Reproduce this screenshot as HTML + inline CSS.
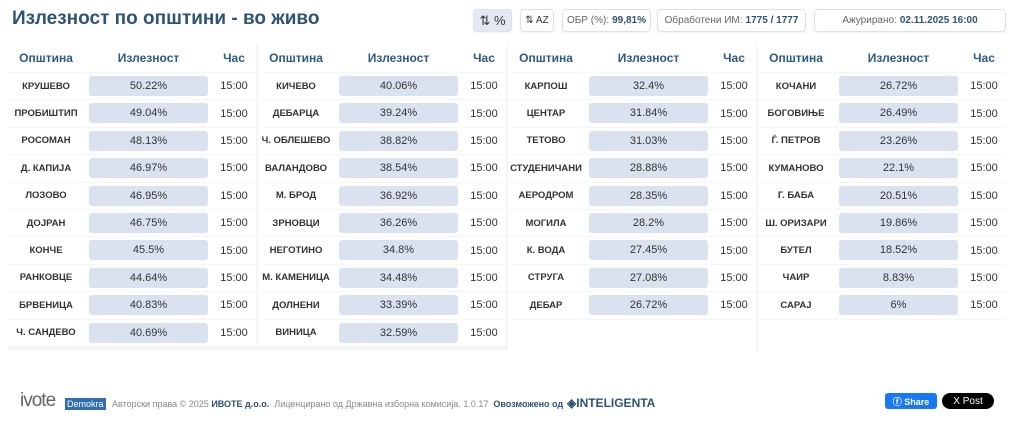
<!DOCTYPE html>
<html><head><meta charset="utf-8"><style>
*{box-sizing:border-box;margin:0;padding:0}
body{width:1024px;height:433px;background:#fff;font-family:"Liberation Sans",sans-serif;position:relative;overflow:hidden}
.title{position:absolute;left:12px;top:8px;font-size:19px;font-weight:bold;color:#2e5474}
.btn{position:absolute;top:9px;height:23px;border:1px solid #dde2ea;border-radius:4px;background:#fff;font-size:10px;color:#666;display:flex;align-items:center;justify-content:center;box-shadow:0 1px 2px rgba(0,0,0,.06);white-space:nowrap}
.btn b{color:#2e5474;margin-left:3px}
.tbl{position:absolute;left:8px;top:44px;width:998px;height:306px;background:#f4f5f7;display:flex;gap:2px}
.col{width:248px;display:flex;flex-direction:column;gap:1px}
.hd{height:28px;background:#fff;position:relative;font-size:12px;font-weight:bold;color:#2c5a85}
.r{height:26.4px;background:#fff;position:relative;font-size:11px;color:#333}
.hd span,.r span{position:absolute;top:0;height:100%;display:flex;align-items:center;justify-content:center}
.n{left:0;width:76px;font-size:9.5px;font-weight:bold;color:#333}
.b{left:81px;width:119px;top:3px!important;height:20px!important;background:#dbe2ef;border-radius:3px;font-size:11px}
.hd .b{background:none;top:0!important;height:100%!important;font-size:12px}
.t{left:204px;width:44px;font-size:11px}
.e{flex:1;background:#fff}
.foot{position:absolute;top:393px;font-size:9px;color:#888}
</style></head><body>
<div class="title">Излезност по општини - во живо</div>
<div class="btn" style="left:473px;width:39px;background:#e3e9f2;color:#333;font-size:13px">⇅ %</div>
<div class="btn" style="left:520px;width:34px;color:#333">⇅ AZ</div>
<div class="btn" style="left:562px;width:89px">ОБР (%):<b>99,81%</b></div>
<div class="btn" style="left:657px;width:149px">Обработени ИМ:<b>1775 / 1777</b></div>
<div class="btn" style="left:814px;width:192px">Ажурирано:<b>02.11.2025 16:00</b></div>
<div class="tbl">
<div class="col">
<div class="hd"><span class="n" style="font-size:12px;color:#2c5a85">Општина</span><span class="b">Излезност</span><span class="t" style="font-size:12px">Час</span></div>
<div class="r"><span class="n">КРУШЕВО</span><span class="b">50.22%</span><span class="t">15:00</span></div>
<div class="r"><span class="n">ПРОБИШТИП</span><span class="b">49.04%</span><span class="t">15:00</span></div>
<div class="r"><span class="n">РОСОМАН</span><span class="b">48.13%</span><span class="t">15:00</span></div>
<div class="r"><span class="n">Д. КАПИЈА</span><span class="b">46.97%</span><span class="t">15:00</span></div>
<div class="r"><span class="n">ЛОЗОВО</span><span class="b">46.95%</span><span class="t">15:00</span></div>
<div class="r"><span class="n">ДОЈРАН</span><span class="b">46.75%</span><span class="t">15:00</span></div>
<div class="r"><span class="n">КОНЧЕ</span><span class="b">45.5%</span><span class="t">15:00</span></div>
<div class="r"><span class="n">РАНКОВЦЕ</span><span class="b">44.64%</span><span class="t">15:00</span></div>
<div class="r"><span class="n">БРВЕНИЦА</span><span class="b">40.83%</span><span class="t">15:00</span></div>
<div class="r"><span class="n">Ч. САНДЕВО</span><span class="b">40.69%</span><span class="t">15:00</span></div>
</div>
<div class="col">
<div class="hd"><span class="n" style="font-size:12px;color:#2c5a85">Општина</span><span class="b">Излезност</span><span class="t" style="font-size:12px">Час</span></div>
<div class="r"><span class="n">КИЧЕВО</span><span class="b">40.06%</span><span class="t">15:00</span></div>
<div class="r"><span class="n">ДЕБАРЦА</span><span class="b">39.24%</span><span class="t">15:00</span></div>
<div class="r"><span class="n">Ч. ОБЛЕШЕВО</span><span class="b">38.82%</span><span class="t">15:00</span></div>
<div class="r"><span class="n">ВАЛАНДОВО</span><span class="b">38.54%</span><span class="t">15:00</span></div>
<div class="r"><span class="n">М. БРОД</span><span class="b">36.92%</span><span class="t">15:00</span></div>
<div class="r"><span class="n">ЗРНОВЦИ</span><span class="b">36.26%</span><span class="t">15:00</span></div>
<div class="r"><span class="n">НЕГОТИНО</span><span class="b">34.8%</span><span class="t">15:00</span></div>
<div class="r"><span class="n">М. КАМЕНИЦА</span><span class="b">34.48%</span><span class="t">15:00</span></div>
<div class="r"><span class="n">ДОЛНЕНИ</span><span class="b">33.39%</span><span class="t">15:00</span></div>
<div class="r"><span class="n">ВИНИЦА</span><span class="b">32.59%</span><span class="t">15:00</span></div>
</div>
<div class="col">
<div class="hd"><span class="n" style="font-size:12px;color:#2c5a85">Општина</span><span class="b">Излезност</span><span class="t" style="font-size:12px">Час</span></div>
<div class="r"><span class="n">КАРПОШ</span><span class="b">32.4%</span><span class="t">15:00</span></div>
<div class="r"><span class="n">ЦЕНТАР</span><span class="b">31.84%</span><span class="t">15:00</span></div>
<div class="r"><span class="n">ТЕТОВО</span><span class="b">31.03%</span><span class="t">15:00</span></div>
<div class="r"><span class="n">СТУДЕНИЧАНИ</span><span class="b">28.88%</span><span class="t">15:00</span></div>
<div class="r"><span class="n">АЕРОДРОМ</span><span class="b">28.35%</span><span class="t">15:00</span></div>
<div class="r"><span class="n">МОГИЛА</span><span class="b">28.2%</span><span class="t">15:00</span></div>
<div class="r"><span class="n">К. ВОДА</span><span class="b">27.45%</span><span class="t">15:00</span></div>
<div class="r"><span class="n">СТРУГА</span><span class="b">27.08%</span><span class="t">15:00</span></div>
<div class="r"><span class="n">ДЕБАР</span><span class="b">26.72%</span><span class="t">15:00</span></div>
<div class="e"></div>
</div>
<div class="col">
<div class="hd"><span class="n" style="font-size:12px;color:#2c5a85">Општина</span><span class="b">Излезност</span><span class="t" style="font-size:12px">Час</span></div>
<div class="r"><span class="n">КОЧАНИ</span><span class="b">26.72%</span><span class="t">15:00</span></div>
<div class="r"><span class="n">БОГОВИЊЕ</span><span class="b">26.49%</span><span class="t">15:00</span></div>
<div class="r"><span class="n">Ѓ. ПЕТРОВ</span><span class="b">23.26%</span><span class="t">15:00</span></div>
<div class="r"><span class="n">КУМАНОВО</span><span class="b">22.1%</span><span class="t">15:00</span></div>
<div class="r"><span class="n">Г. БАБА</span><span class="b">20.51%</span><span class="t">15:00</span></div>
<div class="r"><span class="n">Ш. ОРИЗАРИ</span><span class="b">19.86%</span><span class="t">15:00</span></div>
<div class="r"><span class="n">БУТЕЛ</span><span class="b">18.52%</span><span class="t">15:00</span></div>
<div class="r"><span class="n">ЧАИР</span><span class="b">8.83%</span><span class="t">15:00</span></div>
<div class="r"><span class="n">САРАЈ</span><span class="b">6%</span><span class="t">15:00</span></div>
<div class="e"></div>
</div>
</div>
<div class="foot" style="left:20px;top:390px;font-size:19px;color:#666;letter-spacing:-1px">ivote</div>
<div class="foot" style="left:65px;top:398px;background:#2f6eb0;color:#fff;font-size:9px;padding:1px 2px">Demokra</div>
<div class="foot" style="left:112px;top:399px">Авторски права © 2025 <b style="color:#2e5474">ИВОТЕ д.о.о.</b>&nbsp; Лиценцирано од Државна изборна комисија. 1.0.17 &nbsp;<b style="color:#2e5474">Овозможено од</b></div>
<div class="foot" style="left:567px;top:396px;font-size:12px;font-weight:bold;color:#2e5474">◈INTELIGENTA</div>
<div class="foot" style="left:885px;top:393px;width:52px;height:16px;background:#1877f2;color:#fff;border-radius:3px;font-size:9px;font-weight:bold;display:flex;align-items:center;justify-content:center">ⓕ Share</div>
<div class="foot" style="left:942px;top:393px;width:52px;height:16px;background:#000;color:#fff;border-radius:8px;font-size:10px;display:flex;align-items:center;justify-content:center">X Post</div>
</body></html>
